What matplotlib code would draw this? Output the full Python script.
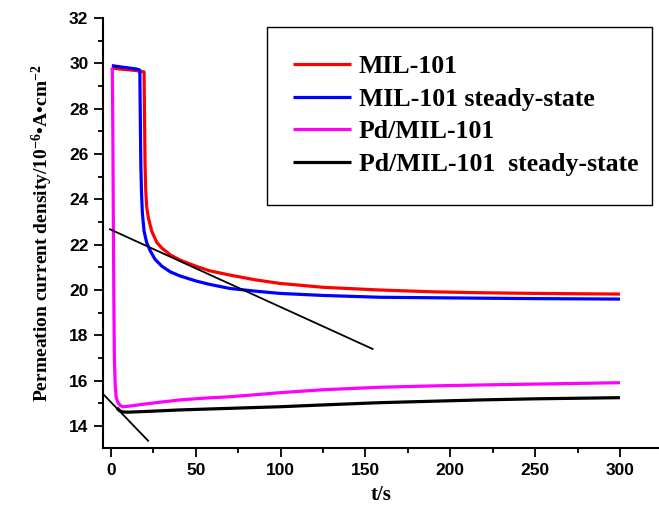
import matplotlib
matplotlib.use("Agg")
import matplotlib.pyplot as plt
from matplotlib.patches import Rectangle
from matplotlib.ticker import MultipleLocator

# ---- data ----
t_red = [0.5, 5, 10, 15, 19.5, 19.8, 20.1, 20.5, 21, 22, 24, 27, 30, 35, 40.7, 50, 58, 70, 85, 99.6, 125, 158.5, 190, 217.4, 250, 300]
y_red = [29.8, 29.75, 29.72, 29.68, 29.62, 27.5, 25.5, 24.4, 23.7, 23.2, 22.6, 22.1, 21.85, 21.55, 21.32, 21.05, 20.85, 20.66, 20.45, 20.29, 20.12, 20.0, 19.92, 19.88, 19.85, 19.82]

t_blue = [0.5, 5, 10, 15, 17, 17.3, 17.6, 18, 18.5, 19.5, 21, 23, 26, 30, 35, 40.7, 50, 58, 70, 85, 99.6, 125, 158.5, 217.4, 250, 300]
y_blue = [29.9, 29.85, 29.8, 29.75, 29.7, 27.5, 25.5, 24.3, 23.4, 22.6, 22.1, 21.75, 21.35, 21.05, 20.8, 20.62, 20.4, 20.25, 20.07, 19.95, 19.85, 19.76, 19.68, 19.64, 19.62, 19.6]

t_mag = [0.3, 0.8, 1.1, 1.4, 1.7, 2.0, 2.5, 3.0, 4.0, 5.5, 7, 10, 20, 30, 40.7, 55, 70, 85, 99.6, 125, 158.5, 190, 217.4, 250, 300]
y_mag = [29.8, 29.7, 27.0, 23.0, 19.5, 17.0, 15.8, 15.3, 15.05, 14.9, 14.85, 14.87, 14.97, 15.06, 15.15, 15.23, 15.29, 15.38, 15.47, 15.6, 15.71, 15.77, 15.81, 15.85, 15.91]

t_blk = [3.5, 5, 7, 10, 20, 40.7, 70, 99.6, 125, 158.5, 217.4, 250, 300]
y_blk = [14.8, 14.68, 14.62, 14.61, 14.64, 14.71, 14.78, 14.85, 14.93, 15.03, 15.15, 15.2, 15.25]

tan1_t = [-0.6, 154.2]
tan1_y = [22.68, 17.4]
tan2_t = [-4.5, 21.9]
tan2_y = [15.4, 13.35]

labels = ["MIL-101", "MIL-101 steady-state", "Pd/MIL-101", "Pd/MIL-101  steady-state"]
colors = ["#ff0000", "#0000ff", "#ff00ff", "#000000"]

# ---- figure ----
plt.rcParams['mathtext.fontset'] = 'custom'
plt.rcParams['mathtext.rm'] = 'Liberation Serif:bold'
plt.rcParams['mathtext.bf'] = 'Liberation Serif:bold'
plt.rcParams['mathtext.default'] = 'bf'

fig = plt.figure(figsize=(6.59, 5.07), dpi=100)
ax = fig.add_axes([103/659, 59/507, 556/659, 430/507])

lw = 2.3
ax.plot(t_red, y_red, color=colors[0], lw=lw, label=labels[0], solid_capstyle='butt')
ax.plot(t_blue, y_blue, color=colors[1], lw=lw, label=labels[1], solid_capstyle='butt')
ax.plot(t_mag, y_mag, color=colors[2], lw=lw, label=labels[2], solid_capstyle='butt')
ax.plot(t_blk, y_blk, color=colors[3], lw=lw, label=labels[3], solid_capstyle='butt')
ax.plot(tan1_t, tan1_y, color='black', lw=1.3)
ax.plot(tan2_t, tan2_y, color='black', lw=1.3)

ax.set_xlim(-4.7, 323)
ax.set_ylim(13.03, 32)

ax.spines['top'].set_visible(False)
ax.spines['right'].set_visible(False)
for s in ['left', 'bottom']:
    ax.spines[s].set_linewidth(1.5)

ax.xaxis.set_major_locator(MultipleLocator(50))
ax.xaxis.set_minor_locator(MultipleLocator(25))
ax.yaxis.set_major_locator(MultipleLocator(2))
ax.yaxis.set_minor_locator(MultipleLocator(1))
ax.tick_params(which='major', direction='out', length=6.5, width=1.3, labelsize=12.5, pad=4)
ax.tick_params(which='minor', direction='out', length=3.5, width=1.3)
for lab in ax.get_xticklabels() + ax.get_yticklabels():
    lab.set_fontfamily('Liberation Sans')
    lab.set_fontweight('bold')

ax.set_xlabel("t/s", fontfamily='Liberation Serif', fontweight='bold', fontsize=15, labelpad=5)
ax.set_ylabel(r"Permeation current density/10$^{-6}$•A•cm$^{-2}$",
              fontfamily='Liberation Serif', fontweight='bold', fontsize=14, labelpad=10)

# legend
leg = ax.legend(loc='upper left', bbox_to_anchor=(293/659, 1 - 55/507), bbox_transform=fig.transFigure,
                frameon=False, borderpad=0, borderaxespad=0, handlelength=2.25, handletextpad=0.3,
                labelspacing=0.37, prop={'family': 'Liberation Serif', 'weight': 'bold', 'size': 18.5})
for h in leg.get_lines():
    h.set_linewidth(2.3)
fig.patches.append(Rectangle((267/659, 1 - 205/507), (652-267)/659, (205-27)/507,
                             transform=fig.transFigure, fill=False, edgecolor='black', lw=1.0))

fig.savefig("out.png", dpi=100)
